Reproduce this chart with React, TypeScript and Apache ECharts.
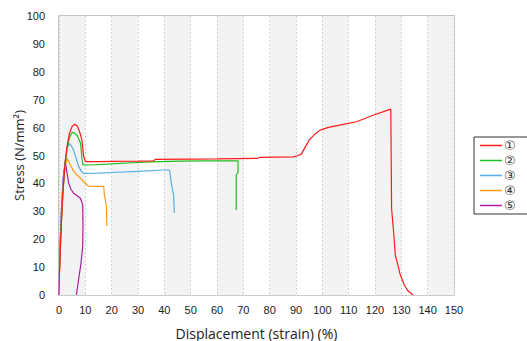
import React, { useEffect, useRef } from "react";
import * as echarts from "echarts";

const seriesNames = ["①", "②", "③", "④", "⑤"];
const colors = ["#ff1a1a", "#1fbf1f", "#55aee6", "#ff9a1a", "#b01aa0"];

const curve1: [number, number][] = [
  [0.2, 8], [0.8, 24], [1.5, 37], [2.2, 46], [3, 53], [4, 58], [5, 60.5], [6, 61.2], [7, 60.5],
  [8, 58], [8.7, 55.5], [9.3, 50], [10, 47.8], [15, 47.8], [20, 47.9], [30, 48], [36, 48.1],
  [36.5, 48.6], [50, 48.7], [60, 48.8], [75.5, 49], [76, 49.3], [89, 49.5], [90.5, 49.9],
  [92, 50.5], [93.5, 53], [95, 55.5], [97, 57.5], [99, 59], [102, 60], [107, 61], [113, 62.1],
  [119.5, 64.5], [126, 66.6], [126.3, 31], [127.1, 22.2], [127.7, 14.3], [128.5, 11.5],
  [129.4, 7.9], [131.1, 3.6], [132.5, 1.5], [134.4, 0],
];
const curve2: [number, number][] = [
  [0.2, 10], [0.8, 25], [1.5, 37], [2.2, 46], [3, 52], [4, 56.5], [5, 58.3], [6, 58], [7, 57],
  [8.2, 54.4], [8.7, 49], [9.1, 46.6], [12, 46.6], [20, 47], [28, 47.4], [35, 47.7], [46, 48],
  [55, 48.1], [68, 48.1], [68, 44], [67.3, 43], [67.3, 30.5],
];
const curve3: [number, number][] = [
  [0.2, 12], [0.8, 28], [1.5, 40], [2.3, 48], [3.2, 53], [3.9, 54.2], [4.7, 53.5], [5.5, 52],
  [6.5, 49], [7.5, 46], [8.5, 44.3], [9.4, 43.6], [15, 43.7], [20, 43.9], [30, 44.3],
  [39.7, 44.8], [42, 44.8], [42.5, 41], [42.9, 38.8], [43.5, 36], [43.8, 29.4],
];
const curve4: [number, number][] = [
  [0.2, 9], [0.8, 24], [1.5, 37], [2.2, 45], [3, 49], [3.6, 48], [4.3, 46.6], [5.5, 44.5],
  [6.8, 43], [8, 42], [9.4, 40.6], [11.2, 39], [14, 38.9], [17, 38.9], [17.2, 36], [18, 32],
  [18.2, 24.7],
];
const curve5: [number, number][] = [
  [0, 0], [0.3, 15], [0.9, 30], [1.6, 42], [2.4, 47.8], [3, 44], [3.7, 40], [4.5, 38],
  [5.5, 36.5], [7, 35.5], [8.1, 34.7], [9, 32.4], [9.1, 25], [9, 17.3], [8.3, 11], [7.5, 6],
  [6.6, 0],
];
const curves = [curve1, curve2, curve3, curve4, curve5];

const xTicks = { min: 0, max: 150, interval: 10 };
const yTicks = { min: 0, max: 100, interval: 10 };

export default function App() {
  const ref = useRef<HTMLDivElement>(null);
  useEffect(() => {
    if (!ref.current) return;
    const chart = echarts.init(ref.current, undefined, { renderer: "svg" });
    const axisFont = "Liberation Sans, Arial, sans-serif";
    const titleFont = "Open Sans, Noto Sans, sans-serif";
    chart.setOption({
      animation: false,
      grid: {
        left: 59,
        right: 73,
        top: 16,
        bottom: 46,
        show: true,
        containLabel: false,
        outerBoundsMode: "none",
        borderColor: "#b0b0b0",
        borderWidth: 1.5,
        backgroundColor: "transparent",
      },
      legend: {
        orient: "vertical",
        left: 474,
        top: 137,
        data: seriesNames,
        icon: "rect",
        itemWidth: 22,
        itemHeight: 1.5,
        itemGap: 2,
        borderColor: "#333",
        borderWidth: 1,
        borderRadius: 0,
        padding: [2, 30, 2, 6],
        textStyle: { fontSize: 13, color: "#333", padding: [0, 0, 0, -3], fontFamily: "DejaVu Sans, sans-serif" },
      },
      xAxis: {
        type: "value",
        min: xTicks.min,
        max: xTicks.max,
        interval: xTicks.interval,
        name: "Displacement (strain) (%)",
        nameLocation: "middle",
        nameGap: 31,
        nameMoveOverlap: false,
        nameTextStyle: { fontSize: 14, color: "#222", fontFamily: titleFont },
        axisLine: { show: false },
        axisTick: { show: false },
        axisLabel: { fontSize: 11, color: "#222", margin: 9, fontFamily: axisFont },
        splitLine: { show: true, lineStyle: { color: "#d4d4d4", type: [2, 2], width: 1 } },
        splitArea: { show: true, areaStyle: { color: ["#f3f3f3", "#ffffff"] } },
      },
      yAxis: {
        type: "value",
        min: yTicks.min,
        max: yTicks.max,
        interval: yTicks.interval,
        name: "Stress (N/mm²)",
        nameLocation: "middle",
        nameGap: 34,
        nameMoveOverlap: false,
        nameTextStyle: { fontSize: 13, color: "#222", fontFamily: titleFont },
        axisLine: { show: false },
        axisTick: { show: false },
        axisLabel: { fontSize: 11, color: "#222", margin: 14, fontFamily: axisFont },
        splitLine: { show: true, lineStyle: { color: "#d4d4d4", type: [2, 2], width: 1 } },
      },
      series: curves.map((d, i) => ({
        name: seriesNames[i],
        type: "line",
        data: d,
        showSymbol: false,
        symbol: "none",
        lineStyle: { color: colors[i], width: 1.2 },
        itemStyle: { color: colors[i] },
        z: 10 - i,
      })),
    });
    return () => chart.dispose();
  }, []);
  return <div ref={ref} style={{ width: 527, height: 341, position: "absolute", left: 0, top: 0 }} />;
}
